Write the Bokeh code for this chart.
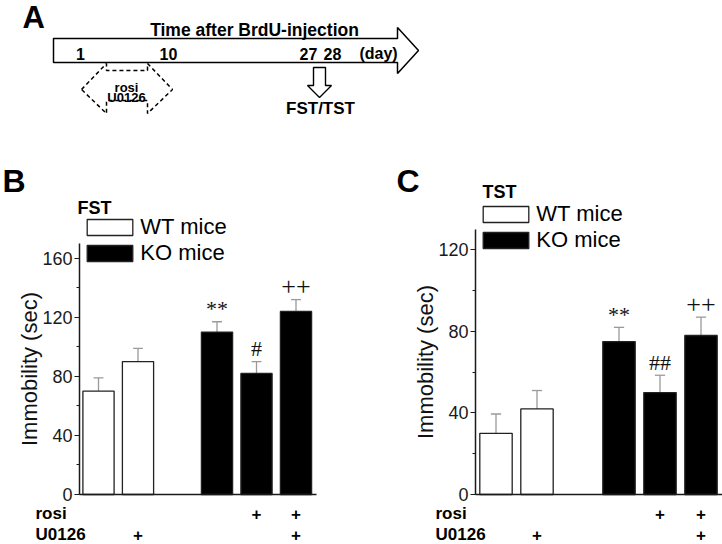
from bokeh.plotting import figure
from bokeh.models import Range1d, Legend, LegendItem, SingleIntervalTicker
from bokeh.layouts import column, row
from bokeh.embed import file_html
from bokeh.resources import INLINE
from bokeh.core.properties import value

# ---------------- data ----------------
groups = ["WT", "WT+U0126", "KO", "KO+rosi", "KO+rosi+U0126"]
positions = [0, 1, 3, 4, 5]
genotype = ["WT", "WT", "KO", "KO", "KO"]
fst_mean = [70, 90, 110, 82, 124]
fst_sem = [9, 9, 7, 8, 8]
tst_mean = [30, 42, 75, 50, 78]
tst_sem = [9.5, 9, 7, 8.5, 9]
fst_sig = ["", "", "**", "#", "++"]
tst_sig = ["", "", "**", "##", "++"]
rosi_flag = ["", "", "", "+", "+"]
u0126_flag = ["", "+", "", "", "+"]
legend_labels = ["WT mice", "KO mice"]
fst_ymax = 170
tst_ymax = 130
tick_interval = 40

# timeline diagram (panel A)
day_labels = ["1", "10", "27", "28", "(day)"]
day_x = [80, 168, 308, 332, 378]
timeline_title = "Time after BrdU-injection"
arrow_x = [53, 397, 397, 418, 397, 397, 53]
arrow_y = [38, 38, 27, 50, 73, 62, 62]
dash_x = [81, 106, 106, 147, 147, 172, 147, 147, 106, 106]
dash_y = [89, 63, 70, 70, 63, 89, 113, 100, 100, 113]
down_x = [313, 325, 325, 331, 319, 307, 313]
down_y = [67, 67, 85, 85, 97, 85, 85]

SANS = "Liberation Sans"
SERIF = "Liberation Serif"
TOP_H = 158
ROW_H = 386

# ---------------- panel A ----------------
pA = figure(width=722, height=TOP_H, x_range=Range1d(0, 722), y_range=Range1d(TOP_H, 0),
            output_backend="svg", toolbar_location=None, min_border=0, title=None)
pA.axis.visible = False
pA.grid.visible = False
pA.outline_line_color = None
pA.patch(arrow_x, arrow_y, fill_color="white", line_color="black", line_width=1.5)
pA.patch(dash_x, dash_y, fill_alpha=0, line_color="black", line_width=1.5, line_dash="4 3")
pA.patch(down_x, down_y, fill_color="white", line_color="black", line_width=1.4)
pA.text(x=[22], y=[17], text=["A"], text_font=value(SANS), text_font_style="bold",
        text_font_size="31px", text_baseline="middle", text_align="left", text_color="black")
pA.text(x=[254], y=[29], text=[timeline_title], text_font=value(SANS), text_font_style="bold",
        text_font_size="17.5px", text_baseline="middle", text_align="center", text_color="black")
pA.text(x=day_x, y=[53] * len(day_x), text=day_labels, text_font=value(SANS), text_font_style="bold",
        text_font_size="16px", text_baseline="middle", text_align="center", text_color="black")
pA.text(x=[126, 126], y=[86.5, 97], text=["rosi", "U0126"], text_font=value(SANS), text_font_style="bold",
        text_font_size="13px", text_baseline="alphabetic", text_align="center", text_color="black")
pA.text(x=[320], y=[108], text=["FST/TST"], text_font=value(SANS), text_font_style="bold",
        text_font_size="17px", text_baseline="middle", text_align="center", text_color="black")


# ---------------- panels B and C ----------------
def make_panel(fig_left, x0px, xscale, y0px, yscale, axis_left, axis_right, ymax,
               means, sems, sig, letter, test, letter_xy, test_xy, box_left, box_bottom,
               row_left, row_y):
    W = 361
    fx = lambda px: (px - x0px) / xscale
    fy = lambda py: (y0px - py) / yscale
    p = figure(width=W, height=ROW_H,
               x_range=Range1d(fx(fig_left), fx(fig_left + W)),
               y_range=Range1d(fy(TOP_H + ROW_H), fy(TOP_H)),
               output_backend="svg", toolbar_location=None, title=None, min_border=0)
    p.grid.visible = False
    p.outline_line_color = None
    xa_lo, xa_hi = fx(axis_left), fx(axis_right)

    # x axis: plain line
    xax = p.xaxis[0]
    xax.fixed_location = 0
    xax.bounds = (xa_lo, xa_hi)
    xax.ticker = []
    xax.major_tick_line_color = None
    xax.minor_tick_line_color = None
    xax.major_label_text_font_size = "0px"
    xax.axis_line_color = "#1a1a1a"
    xax.axis_line_width = 1.5

    yax = p.yaxis[0]
    yax.fixed_location = xa_lo
    yax.bounds = (0, ymax)
    yax.ticker = SingleIntervalTicker(interval=tick_interval, num_minor_ticks=2)
    yax.axis_line_color = "#1a1a1a"
    yax.axis_line_width = 1.5
    yax.major_tick_in = 0
    yax.major_tick_out = 5
    yax.minor_tick_in = 0
    yax.minor_tick_out = 3
    yax.major_tick_line_color = "#1a1a1a"
    yax.minor_tick_line_color = "#1a1a1a"
    yax.major_label_text_font = SANS
    yax.major_label_text_font_size = "18px"
    yax.major_label_text_color = "#1a1a1a"
    yax.major_label_standoff = 2
    yax.axis_label = "Immobility (sec)"
    yax.axis_label_text_font = SANS
    yax.axis_label_text_font_size = "22px"
    yax.axis_label_text_font_style = "normal"
    yax.axis_label_text_color = "#111111"
    yax.axis_label_standoff = -3

    tops = [m + s for m, s in zip(means, sems)]
    fills = ["white" if g == "WT" else "black" for g in genotype]
    cap = 0.125
    p.segment(x0=positions, y0=means, x1=positions, y1=tops, line_color="#9a9a9a", line_width=1.3)
    p.segment(x0=[x - cap for x in positions], y0=tops, x1=[x + cap for x in positions], y1=tops,
              line_color="#9a9a9a", line_width=1.3)
    bars = p.vbar(x=positions, top=means, width=0.79, fill_color=fills, line_color="#222222", line_width=1.3)
    sizes = ["26px" if "+" in s else "22px" for s in sig]
    p.text(x=positions, y=tops, text=sig, text_font=value(SERIF), text_font_size=sizes,
           text_align="center", text_baseline="middle", y_offset=-13, text_color="#111111")

    legend = Legend(items=[LegendItem(label=legend_labels[0], renderers=[bars], index=0),
                           LegendItem(label=legend_labels[1], renderers=[bars], index=2)],
                    location=(box_left - 5.7 - fig_left, TOP_H + ROW_H - box_bottom),
                    border_line_color=None, background_fill_alpha=0, padding=0, margin=0,
                    spacing=-3, glyph_width=57, glyph_height=20, label_standoff=2, label_height=20,
                    label_text_font=SANS, label_text_font_size="22px", label_text_color="black")
    p.add_layout(legend, "center")

    p.text(x=[fx(letter_xy[0])], y=[fy(letter_xy[1])], text=[letter], text_font=value(SANS),
           text_font_style="bold", text_font_size="32px", text_baseline="middle", text_align="left",
           text_color="black")
    p.text(x=[fx(test_xy[0])], y=[fy(test_xy[1])], text=[test], text_font=value(SANS),
           text_font_style="bold", text_font_size="18px", text_baseline="middle", text_align="left",
           text_color="black")
    for name, flags, py in (("rosi", rosi_flag, row_y[0]), ("U0126", u0126_flag, row_y[1])):
        p.text(x=[fx(row_left)], y=[fy(py)], text=[name], text_font=value(SANS), text_font_style="bold",
               text_font_size="17px", text_baseline="middle", text_align="left", text_color="black")
        xs = [x for x, f in zip(positions, flags) if f]
        p.text(x=xs, y=[fy(py)] * len(xs), text=["+"] * len(xs), text_font=value(SANS),
               text_font_style="bold", text_font_size="17px", text_baseline="middle",
               text_align="center", text_color="black")
    return p


pB = make_panel(0, 98, 39.5, 494, 251 / fst_ymax, 79, 316, fst_ymax,
                fst_mean, fst_sem, fst_sig, "B", "FST", (2, 180), (77, 207), 87, 266,
                35, (513, 534))
pC = make_panel(361, 495.5, 41, 494, 265 / tst_ymax, 475, 722, tst_ymax,
                tst_mean, tst_sem, tst_sig, "C", "TST", (396, 180), (482, 191), 483, 253,
                435, (513, 534))

layout = column(pA, row(pB, pC))
open("out.html", "w").write(file_html(layout, INLINE))
